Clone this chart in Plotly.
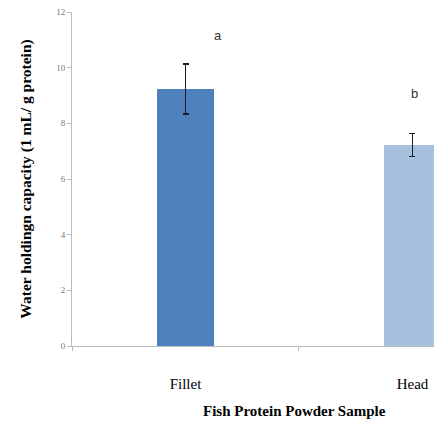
import plotly.graph_objects as go

categories = ["Fillet", "Head"]
values = [9.23, 7.22]
errors = [0.9, 0.42]
letters = ["a", "b"]
colors = ["#4F81BD", "#A7C0DE"]
y_ticks = [0, 2, 4, 6, 8, 10, 12]

SERIF = "Liberation Serif"
letter_shift = [(32, 29), (2, 40)]

fig = go.Figure()
fig.add_trace(go.Bar(
    x=categories, y=values,
    marker=dict(color=colors, line=dict(width=0)),
    width=0.255,
    error_y=dict(type="data", array=errors, color="#1a1a2e", thickness=1.5, width=3),
))
for c, v, e, l, (dx, dy) in zip(categories, values, errors, letters, letter_shift):
    fig.add_annotation(x=c, y=v + e, text=l, showarrow=False, yshift=dy, xshift=dx,
                       font=dict(family="Liberation Sans", size=13, color="#333"))

# the page adds an 8px body margin, so the figure is sized to fit inside it
fig.update_layout(
    width=434, height=415,
    margin=dict(l=64, r=0, t=4, b=77, autoexpand=False),
    paper_bgcolor="white", plot_bgcolor="white",
    showlegend=False,
    bargap=0,
    xaxis=dict(range=[-0.5, 1.13], showline=True, linecolor="#bbbbbb", linewidth=1,
               ticks="outside", tickson="boundaries", ticklen=4, tickcolor="#bbbbbb",
               ticklabelstandoff=24, automargin=False,
               tickfont=dict(family=SERIF, size=15, color="black"),
               showgrid=False, zeroline=False),
    yaxis=dict(range=[0, 12], tickvals=y_ticks, showline=True, linecolor="#bbbbbb", linewidth=1,
               ticks="outside", ticklen=4, tickcolor="#bbbbbb", automargin=False,
               ticklabeloverflow="allow",
               tickfont=dict(family=SERIF, size=9, color="#777"),
               showgrid=False, zeroline=False,
               title=dict(text="<b>Water holdingn capacity (1 mL/ g protein)</b>", standoff=20,
                          font=dict(family=SERIF, size=15.5, color="black"))),
)
fig.add_annotation(xref="paper", yref="paper", x=0.6, y=-0.165, yanchor="top",
                   text="<b>Fish Protein Powder Sample</b>", showarrow=False,
                   font=dict(family=SERIF, size=15, color="black"))

fig.write_html("out.html")
